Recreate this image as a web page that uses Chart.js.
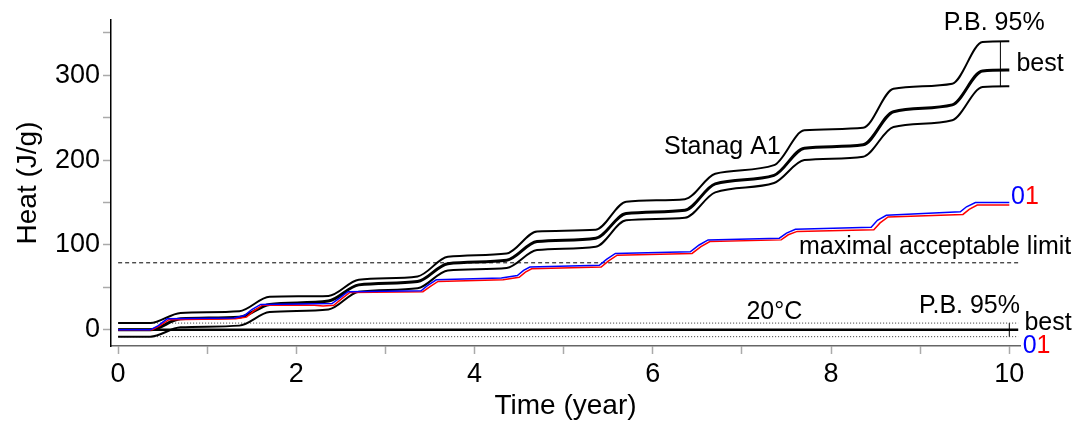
<!DOCTYPE html>
<html>
<head>
<meta charset="utf-8">
<script src="https://cdn.jsdelivr.net/npm/chart.js@4.4.1/dist/chart.umd.min.js"></script>
<style>
  body { margin: 0; background: #fff; }
  #wrap { width: 1086px; height: 423px; }
</style>
</head>
<body>
<div id="wrap"><canvas id="myChart" width="1086" height="423"></canvas></div>
<script>
// Stanag A1 prediction (best + P.B. 95% band)
const stanagTime  = [0, 0.36, 0.7, 1.36, 1.7, 2.36, 2.7, 3.36, 3.7, 4.36, 4.7, 5.36, 5.7, 6.36, 6.7, 7.36, 7.7, 8.36, 8.7, 9.36, 9.7, 10]
const stanagBest  = [0, 0, 13, 15, 30, 34, 53, 57, 78, 82, 104, 108, 137, 141, 172, 182, 214, 218, 257, 265, 305, 306]
const stanagUpper = [8, 8, 20, 22, 39, 40, 59, 63, 86, 90, 116, 118, 151, 154, 184, 194, 235, 238, 284, 290, 339, 340]
const stanagLower = [-8, -8, 3, 5, 21, 24, 45, 49, 70, 73, 94, 98, 129, 132, 162, 173, 200, 204, 239, 247, 286, 287]

// measured series 0 (blue) and 1 (red)
const time0 = [0, 0.36, 0.45, 0.55, 1.3, 1.42, 1.5, 1.6, 2.4, 2.48, 2.58, 3.4, 3.47, 3.57, 4.3, 4.48, 4.55, 4.62, 5.4, 5.48, 5.58, 6.42, 6.52, 6.62, 7.42, 7.5, 7.6, 8.45, 8.52, 8.62, 9.45, 9.52, 9.62, 10]
const heat0 = [0, 0, 5, 13, 14, 17, 24, 30, 31, 37, 45, 46, 52, 59, 61, 64, 70, 74, 76, 83, 90, 92, 100, 106, 108, 114, 118.5, 121, 129, 135, 139, 145, 150, 150]
const time1 = [0, 0.38, 0.47, 0.57, 1.32, 1.44, 1.52, 1.62, 2.2, 2.3, 2.42, 2.5, 2.6, 3.42, 3.5, 3.59, 4.32, 4.5, 4.57, 4.64, 5.42, 5.5, 5.6, 6.44, 6.54, 6.64, 7.44, 7.52, 7.62, 8.48, 8.55, 8.64, 9.48, 9.55, 9.64, 10]
const heat1 = [0, 0, 5, 12, 13, 15, 22, 29, 29, 28, 29, 36, 44, 45, 51, 57, 59, 62, 68, 72, 74, 81, 88, 90, 98, 104, 106, 112, 116, 118, 126, 133, 136, 142, 147, 147]

// 20°C reference (best and P.B. 95%), acceptance limit
const refTime = [0, 10.1]
const refBest = 0
const refBand = [8, -8]
const limitHeat = 79

// error bars
const errTop = {t: 9.9, lo: 286, hi: 340}
const errRef = {t: 10, lo: -8, hi: 8}

const xTicks = [0, 2, 4, 6, 8, 10]
const yTicks = [0, 100, 200, 300]

const pts = (xs, ys) => xs.map((x, i) => ({x: x, y: ys[i]}))
const flat = (xs, v) => xs.map(x => ({x: x, y: v}))

const FONT = 'Liberation Sans, Arial, sans-serif'

const labelsPlugin = {
  id: 'labels',
  afterDatasetsDraw(chart) {
    const {ctx, scales: {x, y}} = chart
    const items = [
      {text: 'P.B. 95%', t: 9.83, v: 361, align: 'center'},
      {text: 'best', t: 10.08, v: 313, align: 'left'},
      {text: 'Stanag A1', t: 6.78, v: 215, align: 'center'},
      {text: 'maximal acceptable limit', t: 7.64, v: 97, align: 'left'},
      {text: '20°C', t: 7.05, v: 21, align: 'left'},
      {text: 'P.B. 95%', t: 10.12, v: 28, align: 'right'},
      {text: 'best', t: 10.17, v: 8, align: 'left'}
    ]
    ctx.save()
    ctx.font = '25px ' + FONT
    ctx.textBaseline = 'middle'
    ctx.fillStyle = '#000'
    items.forEach(it => {
      ctx.textAlign = it.align
      ctx.fillText(it.text, x.getPixelForValue(it.t), y.getPixelForValue(it.v))
    })
    // series names 0 / 1
    ;[[10.02, 156], [10.15, -19]].forEach(p => {
      const px = x.getPixelForValue(p[0])
      const py = y.getPixelForValue(p[1])
      ctx.textAlign = 'left'
      ctx.fillStyle = '#0000ff'
      ctx.fillText('0', px, py)
      ctx.fillStyle = '#ff0000'
      ctx.fillText('1', px + ctx.measureText('0').width, py)
    })
    ctx.restore()
  }
}

const ctx = document.getElementById('myChart')
new Chart(ctx, {
  type: 'line',
  data: {
    datasets: [
      {data: pts(time0, heat0), borderColor: '#0000ff', borderWidth: 1.5},
      {data: pts(time1, heat1), borderColor: '#ff0000', borderWidth: 1.5},
      {data: pts(stanagTime, stanagBest), borderColor: '#000', borderWidth: 3, cubicInterpolationMode: 'monotone'},
      {data: pts(stanagTime, stanagUpper), borderColor: '#000', borderWidth: 2, cubicInterpolationMode: 'monotone'},
      {data: pts(stanagTime, stanagLower), borderColor: '#000', borderWidth: 2, cubicInterpolationMode: 'monotone'},
      {data: flat(refTime, refBest), borderColor: '#000', borderWidth: 2.5},
      {data: flat(refTime, refBand[0]), borderColor: '#333', borderWidth: 1, borderDash: [1, 2]},
      {data: flat(refTime, refBand[1]), borderColor: '#333', borderWidth: 1, borderDash: [1, 2]},
      {data: flat([0, 10.12], limitHeat), borderColor: '#000', borderWidth: 1, borderDash: [4, 3]},
      {data: [{x: errTop.t, y: errTop.lo}, {x: errTop.t, y: errTop.hi}], borderColor: '#000', borderWidth: 1},
      {data: [{x: errRef.t, y: errRef.lo}, {x: errRef.t, y: errRef.hi}], borderColor: '#000', borderWidth: 1}
    ]
  },
  options: {
    responsive: false,
    animation: false,
    elements: {point: {radius: 0}, line: {tension: 0, fill: false}},
    layout: {padding: {left: 0, right: 66, top: 20, bottom: 0}},
    plugins: {
      legend: {display: false},
      tooltip: {enabled: false}
    },
    scales: {
      x: {
        type: 'linear',
        min: -0.08,
        max: 10.12,
        afterFit: s => { s.height = 77 },
        border: {display: true, color: '#666', width: 1.5},
        grid: {drawOnChartArea: false, drawTicks: true, tickLength: 8, tickColor: '#aaa', tickWidth: 1.5},
        ticks: {
          stepSize: 1,
          includeBounds: false,
          autoSkip: false,
          maxRotation: 0,
          padding: 4,
          color: '#000',
          font: {family: FONT, size: 27},
          callback: v => xTicks.includes(v) ? v : ''
        },
        title: {display: true, text: 'Time (year)', color: '#000', font: {family: FONT, size: 28}, padding: {top: 0, bottom: 0}}
      },
      y: {
        type: 'linear',
        min: -19,
        max: 365,
        afterFit: s => { s.width = 111 },
        border: {display: true, color: '#000', width: 1.5},
        grid: {drawOnChartArea: false, drawTicks: true, tickLength: 8, tickColor: '#aaa', tickWidth: 1.5},
        ticks: {
          stepSize: 50,
          includeBounds: false,
          autoSkip: false,
          padding: 3,
          color: '#000',
          font: {family: FONT, size: 27},
          callback: v => yTicks.includes(v) ? v : ''
        },
        title: {display: true, text: 'Heat (J/g)', color: '#000', font: {family: FONT, size: 28}, padding: {top: 11, bottom: 0}}
      }
    }
  },
  plugins: [labelsPlugin]
})
</script>
</body>
</html>
